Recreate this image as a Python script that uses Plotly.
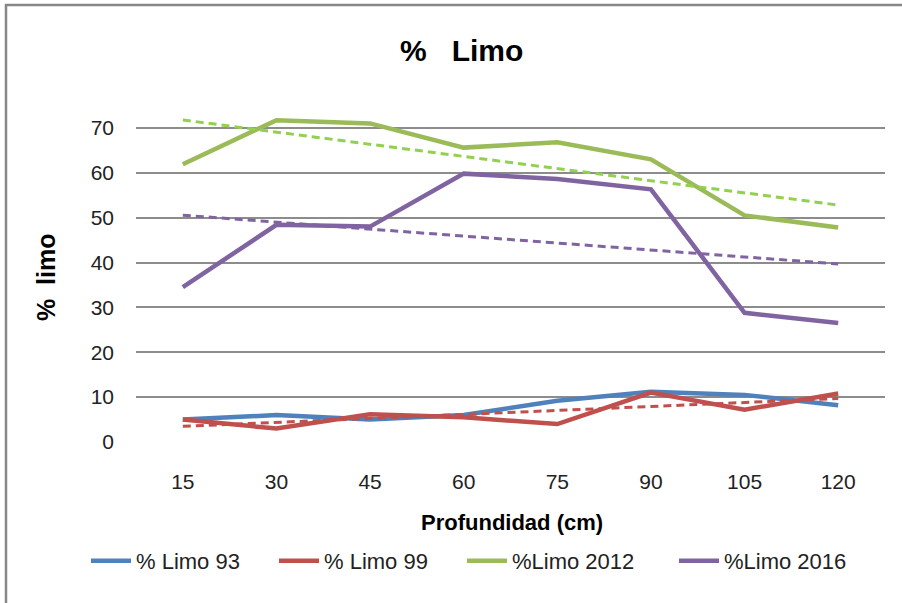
import numpy as np
import plotly.graph_objects as go

depths = ["15", "30", "45", "60", "75", "90", "105", "120"]
limo93 = [5.0, 6.0, 5.0, 6.0, 9.2, 11.2, 10.5, 8.2]
limo99 = [5.0, 3.0, 6.2, 5.5, 4.0, 11.0, 7.2, 10.8]
limo2012 = [61.9, 71.7, 71.0, 65.6, 66.8, 63.0, 50.5, 47.8]
limo2016 = [34.5, 48.4, 48.0, 59.8, 58.6, 56.3, 28.8, 26.5]
series_names = ["% Limo 93", "% Limo 99", "%Limo 2012", "%Limo 2016"]
yticks = [0, 10, 20, 30, 40, 50, 60, 70]

colors = ["#4F81BD", "#C0504D", "#9BBB59", "#8064A2"]
trend_colors = {1: "#C0504D", 2: "#92D050", 3: "#8064A2"}
FONT = "Liberation Sans, Arial, sans-serif"

W, H = 902, 603
L, R, T, B = 136, 17, 83, 161
pw, ph = W - L - R, H - T - B


def px_x(x):
    return (x - L) / pw


def px_y(y):
    return (H - B - y) / ph


legend_ids = ["legend", "legend2", "legend3", "legend4"]
text_starts = [136, 324, 512, 724]

fig = go.Figure()
data = [limo93, limo99, limo2012, limo2016]
for i, (vals, name) in enumerate(zip(data, series_names)):
    fig.add_trace(go.Scatter(x=depths, y=vals, mode="lines", name=name,
                             legend=legend_ids[i],
                             line=dict(color=colors[i], width=4.5)))

# Linear trendlines (as in the spreadsheet chart) for three series
xi = np.arange(1, len(depths) + 1)
for i, c in trend_colors.items():
    m, b = np.polyfit(xi, data[i], 1)
    fig.add_trace(go.Scatter(x=[depths[0], depths[-1]], y=[m * xi[0] + b, m * xi[-1] + b],
                             mode="lines", showlegend=False, hoverinfo="skip",
                             line=dict(color=c, width=3, dash="8px,5px")))

legend_cfg = {}
for lid, ts in zip(legend_ids, text_starts):
    legend_cfg[lid] = dict(orientation="h", x=px_x(ts - 50), xanchor="left",
                           y=px_y(561), yanchor="middle",
                           font=dict(family=FONT, size=22, color="#222222"),
                           itemwidth=40, bgcolor="rgba(0,0,0,0)")

fig.update_layout(
    width=W, height=H,
    margin=dict(l=L, r=R, t=T, b=B),
    paper_bgcolor="white", plot_bgcolor="white",
    font=dict(family=FONT, size=18, color="#222222"),
    showlegend=True,
    **legend_cfg,
    xaxis=dict(type="category", range=[-0.5, 7.5], showgrid=False, zeroline=False,
               showline=False, ticks="", tickfont=dict(family=FONT, size=21, color="#222222"),
               ticklabelstandoff=25),
    yaxis=dict(range=[0, 80], tickvals=yticks, showgrid=True, gridcolor="#8C8C8C",
               gridwidth=1.5, zeroline=False, showline=False, ticks="",
               tickfont=dict(family=FONT, size=21, color="#222222"), ticklabelstandoff=21),
    annotations=[
        dict(text="<b>%   Limo</b>", xref="paper", yref="paper", x=px_x(461),
             y=px_y(50), showarrow=False, xanchor="center", yanchor="middle",
             font=dict(family=FONT, size=30, color="black")),
        dict(text="<b>%  limo</b>", xref="paper", yref="paper", x=px_x(46),
             y=px_y(277), showarrow=False, xanchor="center", yanchor="middle",
             textangle=-90, font=dict(family=FONT, size=25, color="black")),
        dict(text="<b>Profundidad (cm)</b>", xref="paper", yref="paper", x=px_x(512),
             y=px_y(522), showarrow=False, xanchor="center", yanchor="middle",
             font=dict(family=FONT, size=22, color="black")),
    ],
    shapes=[dict(type="rect", xref="paper", yref="paper",
                 x0=px_x(6), x1=px_x(910),
                 y0=px_y(615), y1=px_y(5),
                 line=dict(color="#878787", width=2.5), fillcolor="rgba(0,0,0,0)", layer="below")],
)

fig.write_html("out.html")
